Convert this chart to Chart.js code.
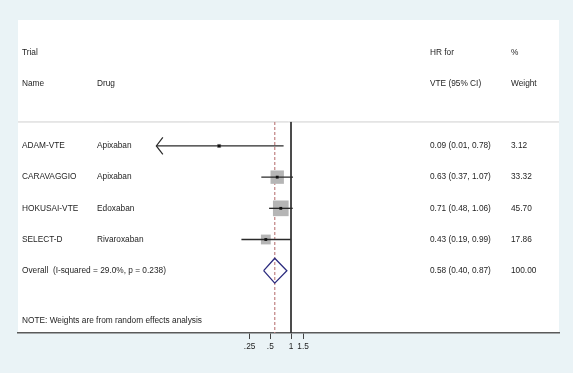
<!DOCTYPE html>
<html>
<head>
<meta charset="utf-8">
<style>
  body { margin: 0; background: #eaf3f6; }
  canvas { display: block; }
</style>
<script src="https://cdn.jsdelivr.net/npm/chart.js"></script>
</head>
<body>
<canvas id="forest" width="573" height="373"></canvas>
<script>
// study rows
const trials = ['ADAM-VTE', 'CARAVAGGIO', 'HOKUSAI-VTE', 'SELECT-D'];
const drugs = ['Apixaban', 'Apixaban', 'Edoxaban', 'Rivaroxaban'];
const hr = [0.09, 0.63, 0.71, 0.43];
const ciLow = [0.01, 0.37, 0.48, 0.19];
const ciHigh = [0.78, 1.07, 1.06, 0.99];
const weights = [3.12, 33.32, 45.70, 17.86];

// pooled estimate
const overallLabel = 'Overall  (I-squared = 29.0%, p = 0.238)';
const overallHr = 0.58;
const overallLow = 0.40;
const overallHigh = 0.87;
const overallWeight = 100.00;

// x axis
const xTickValues = [0.25, 0.5, 1, 1.5];
const xTickLabels = ['.25', '.5', '1', '1.5'];
const xMin = 1.07e-4, xMax = 7900;
const xClip = 0.011;   // CIs below this get an arrow

const BLUE = '#eaf3f6';
const TEXT = '#1e1e1e';
const FONT = '8.3px "Liberation Sans", Arial, sans-serif';

const rowOverall = trials.length;
const rowTop = -0.77, rowBottom = 6;

const datasets = [];

// point estimates (small black dots)
datasets.push({
  data: hr.map((v, i) => ({ x: v, y: i })),
  pointStyle: 'rect', pointRadius: 2, backgroundColor: '#111', borderWidth: 0, order: 0
});

// confidence interval lines
trials.forEach((t, i) => {
  datasets.push({
    data: [{ x: Math.max(ciLow[i], xClip), y: i }, { x: ciHigh[i], y: i }],
    showLine: true, pointRadius: 0, borderColor: '#2a2a2a', borderWidth: 1.3, order: 1
  });
});

// weight boxes, side ~ sqrt(weight)
datasets.push({
  data: hr.map((v, i) => ({ x: v, y: i })),
  pointStyle: 'rect',
  pointRadius: weights.map((w) => (2.32 * Math.sqrt(w)) / Math.SQRT2),
  backgroundColor: '#b5b5b5', borderWidth: 0, order: 2
});

// overall diamond
datasets.push({
  data: [
    { x: overallLow, y: rowOverall }, { x: overallHr, y: rowOverall - 0.4 },
    { x: overallHigh, y: rowOverall }, { x: overallHr, y: rowOverall + 0.4 },
    { x: overallLow, y: rowOverall }
  ],
  showLine: true, pointRadius: 0, borderColor: '#2b2b7e', borderWidth: 1.3, order: 1
});

// overall effect (dashed) and null line
datasets.push({
  data: [{ x: overallHr, y: rowTop }, { x: overallHr, y: rowBottom }],
  showLine: true, pointRadius: 0, borderColor: '#c48a8a', borderWidth: 1.3, borderDash: [3, 2], order: 3
});
datasets.push({
  data: [{ x: 1, y: rowTop }, { x: 1, y: rowBottom }],
  showLine: true, pointRadius: 0, borderColor: '#333', borderWidth: 1, order: 3
});

// separator under header
datasets.push({
  data: [{ x: xMin, y: rowTop }, { x: xMax, y: rowTop }],
  showLine: true, pointRadius: 0, borderColor: '#cfcfcf', borderWidth: 1, order: 4
});

const backdrop = {
  id: 'backdrop',
  beforeDraw(chart) {
    const { ctx, chartArea: a } = chart;
    ctx.save();
    ctx.fillStyle = BLUE;
    ctx.fillRect(0, 0, chart.width, chart.height);
    ctx.fillStyle = '#fff';
    ctx.fillRect(a.left, a.top, a.right - a.left, a.bottom - a.top);
    ctx.restore();
  }
};

const table = {
  id: 'table',
  afterDatasetsDraw(chart) {
    const { ctx, scales: { x, y } } = chart;
    ctx.save();
    ctx.font = FONT;
    ctx.fillStyle = TEXT;
    ctx.textBaseline = 'middle';
    const put = (s, px, row) => ctx.fillText(s, px, y.getPixelForValue(row));

    put('Trial', 22, -3); put('HR for', 430, -3); put('%', 511, -3);
    put('Name', 22, -2); put('Drug', 97, -2); put('VTE (95% CI)', 430, -2); put('Weight', 511, -2);

    const ci = (e, l, h) => `${e.toFixed(2)} (${l.toFixed(2)}, ${h.toFixed(2)})`;
    trials.forEach((t, i) => {
      put(t, 22, i);
      put(drugs[i], 97, i);
      put(ci(hr[i], ciLow[i], ciHigh[i]), 430, i);
      put(weights[i].toFixed(2), 511, i);
    });
    put(overallLabel, 22, rowOverall);
    put(ci(overallHr, overallLow, overallHigh), 430, rowOverall);
    put(overallWeight.toFixed(2), 511, rowOverall);
    put('NOTE: Weights are from random effects analysis', 22, 5.6);

    // arrows for clipped lower limits
    ctx.strokeStyle = '#2a2a2a';
    ctx.lineWidth = 1.2;
    trials.forEach((t, i) => {
      if (ciLow[i] >= xClip) return;
      const px = x.getPixelForValue(xClip), py = y.getPixelForValue(i);
      ctx.beginPath();
      ctx.moveTo(px + 6.5, py - 8.5);
      ctx.lineTo(px, py);
      ctx.lineTo(px + 6.5, py + 8.5);
      ctx.stroke();
    });
    ctx.restore();
  }
};

new Chart(document.getElementById('forest'), {
  type: 'scatter',
  data: { datasets },
  options: {
    responsive: false,
    animation: false,
    layout: { padding: { left: 18, right: 14, top: 20, bottom: 18 } },
    plugins: { legend: { display: false }, tooltip: { enabled: false } },
    scales: {
      x: {
        type: 'logarithmic',
        min: xMin, max: xMax,
        afterBuildTicks: (s) => { s.ticks = xTickValues.map((v) => ({ value: v })); },
        ticks: {
          autoSkip: false, maxRotation: 0, padding: 3,
          color: TEXT, font: { family: '"Liberation Sans", Arial, sans-serif', size: 8.3 },
          callback: (v) => xTickLabels[xTickValues.indexOf(v)]
        },
        grid: { drawOnChartArea: false, tickLength: 6, color: '#444' },
        border: { color: '#5a5a5a', width: 1.5 }
      },
      y: { type: 'linear', reverse: true, min: -4.04, max: rowBottom, display: false }
    }
  },
  plugins: [backdrop, table]
});
</script>
</body>
</html>
